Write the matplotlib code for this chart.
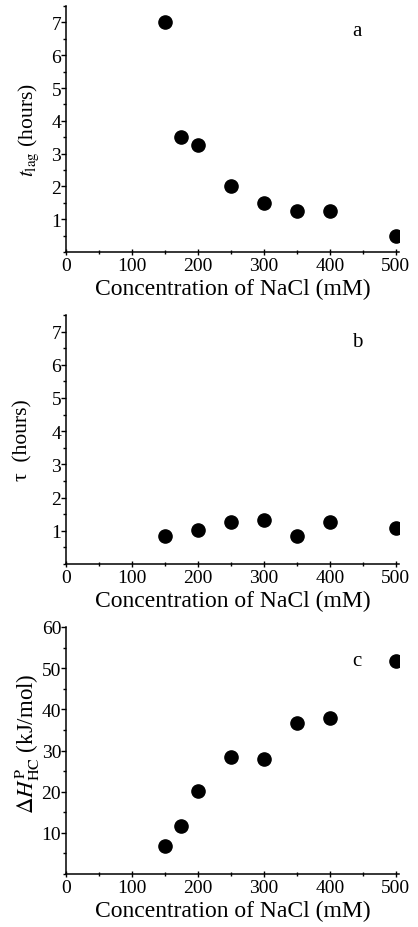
import matplotlib
matplotlib.use("Agg")
from matplotlib import pyplot as plt
from matplotlib.ticker import MultipleLocator
import numpy as np

plt.rcParams['font.family'] = ['Liberation Serif', 'DejaVu Serif']
plt.rcParams['mathtext.fontset'] = 'stix'

# data
nacl_a = [150, 175, 200, 250, 300, 350, 400, 500]
tlag = [7.0, 3.5, 3.25, 2.0, 1.5, 1.25, 1.25, 0.5]

nacl_b = [150, 200, 250, 300, 350, 400, 500]
tau = [0.84, 1.03, 1.28, 1.34, 0.84, 1.26, 1.08]

nacl_c = [150, 175, 200, 250, 300, 350, 400, 500]
dH = [6.8, 11.6, 20.1, 28.4, 28.0, 36.7, 37.8, 51.7]

fig = plt.figure(figsize=(4.18, 9.28), dpi=100)
W, H = 418, 928
left, right = 66, 399

def make_ax(top_px, bottom_px):
    return fig.add_axes([left / W, 1 - bottom_px / H, (right - left) / W, (bottom_px - top_px) / H])

# (axes, x, y, ymax, major, minor, ylabel, letter, letter y, ylabel size, ylabel x px, ylabel y frac)
panels = [
    (make_ax(7, 253), nacl_a, tlag, 7.5, 1, 0.5, r'$t_{\rm lag}$ (hours)', 'a', 6.75, 15.5, 29, 0.5),
    (make_ax(316, 565), nacl_b, tau, 7.5, 1, 0.5, 'τ  (hours)', 'b', 6.7, 15.5, 23, 0.5),
    (make_ax(628, 875), nacl_c, dH, 60, 10, 5, r'$\Delta H^{\rm P}_{\rm HC}$ (kJ/mol)', 'c', 51.8, 16.5, 27, 0.53),
]

for ax, x, y, ymax, major, minor, ylab, letter, ly, yfs, lx, lyf in panels:
    ax.plot(x, y, 'o', color='black', ms=9.5)
    ax.set_xlim(0, 505)
    ax.set_ylim(0, ymax)
    ax.spines['top'].set_visible(False)
    ax.spines['right'].set_visible(False)
    for s in ('left', 'bottom'):
        ax.spines[s].set_linewidth(1.1)
    ax.xaxis.set_major_locator(MultipleLocator(100))
    ax.xaxis.set_minor_locator(MultipleLocator(50))
    ax.set_yticks(np.arange(major, ymax + 0.01, major))
    ax.yaxis.set_minor_locator(MultipleLocator(minor))
    ax.tick_params(axis='x', which='major', direction='inout', length=5, width=1, labelsize=14, pad=1)
    ax.tick_params(axis='x', which='minor', direction='inout', length=3, width=1)
    ax.tick_params(axis='y', which='major', direction='out', length=3.5, width=1, labelsize=14, pad=0)
    ax.tick_params(axis='y', which='minor', direction='out', length=2, width=1)
    ax.set_xlabel('Concentration of NaCl (mM)', fontsize=17, labelpad=3)
    ax.set_ylabel(ylab, fontsize=yfs, va='center')
    ax.yaxis.set_label_coords((lx - left) / (right - left), lyf)
    ax.text(441, ly, letter, fontsize=15, ha='center', va='center')

plt.savefig('out.png', dpi=100)
